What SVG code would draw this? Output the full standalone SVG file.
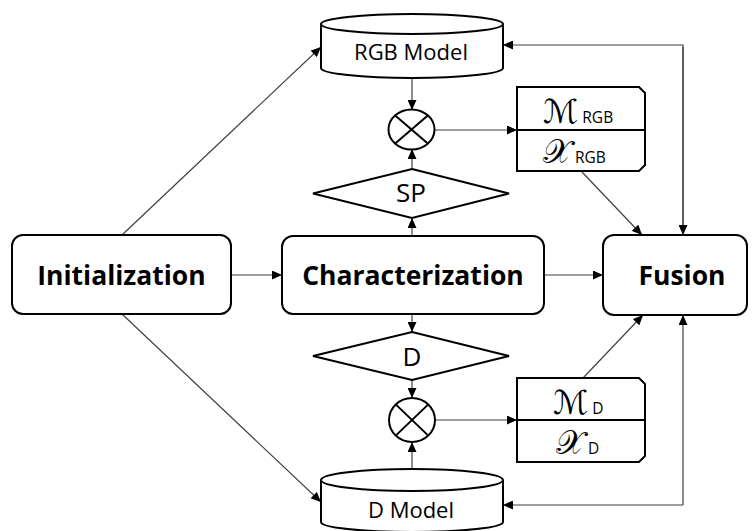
<svg xmlns="http://www.w3.org/2000/svg" width="752" height="531" viewBox="0 0 752 531">
<style>
.box{fill:#fff;stroke:#000;stroke-width:2}
.con{fill:none;stroke:#404040;stroke-width:1.2}
.big{font-family:"Open Sans","DejaVu Sans",sans-serif;font-weight:bold;font-size:26.5px;text-anchor:middle;fill:#000}
.reg{font-family:"Open Sans","DejaVu Sans",sans-serif;font-size:22px;text-anchor:middle;fill:#000}
.dia{font-family:"Open Sans","DejaVu Sans",sans-serif;font-size:26px;text-anchor:middle;fill:#000}
.sub{font-family:"Open Sans","DejaVu Sans",sans-serif;font-size:15.5px;fill:#000}
.cal{font-family:"DejaVu Sans","DejaVu Serif",serif;font-size:33px;fill:#000}
</style>
<defs>
<marker id="ah" markerUnits="userSpaceOnUse" markerWidth="11" markerHeight="9" refX="10" refY="4.5" orient="auto">
<path d="M0,0 L10,4.5 L0,9 z" fill="#000"/>
</marker>
</defs>

<g id="connectors" class="con">
<line x1="231" y1="275" x2="282" y2="275" marker-end="url(#ah)"/>
<line x1="544" y1="275" x2="603" y2="275" marker-end="url(#ah)"/>
<line x1="122" y1="235" x2="321" y2="47" marker-end="url(#ah)"/>
<line x1="122" y1="314" x2="321" y2="502" marker-end="url(#ah)"/>
<line x1="412" y1="78" x2="412" y2="110" marker-end="url(#ah)"/>
<line x1="412" y1="169" x2="412" y2="149" marker-end="url(#ah)"/>
<line x1="412" y1="236" x2="412" y2="218" marker-end="url(#ah)"/>
<line x1="412" y1="314" x2="412" y2="332" marker-end="url(#ah)"/>
<line x1="412" y1="380" x2="412" y2="398" marker-end="url(#ah)"/>
<line x1="412" y1="469" x2="412" y2="442" marker-end="url(#ah)"/>
<line x1="435" y1="130" x2="517" y2="130" marker-end="url(#ah)"/>
<line x1="435" y1="420" x2="517" y2="420" marker-end="url(#ah)"/>
<line x1="582" y1="172" x2="642" y2="235" marker-end="url(#ah)"/>
<line x1="583" y1="378" x2="643" y2="315" marker-end="url(#ah)"/>
<polyline points="683,235 683,45 503,45" marker-end="url(#ah)"/>
<polyline points="683,47 683,235" marker-end="url(#ah)"/>
<polyline points="683,505 503,505" marker-end="url(#ah)"/>
<polyline points="683,505 683,315" marker-end="url(#ah)"/>
</g>

<g id="initialization">
<rect class="box" x="12" y="235" width="219" height="79" rx="11"/>
<text class="big" x="121.5" y="285">Initialization</text>
</g>

<g id="characterization">
<rect class="box" x="282" y="236" width="262" height="78" rx="11"/>
<text class="big" x="413" y="285">Characterization</text>
</g>

<g id="fusion">
<rect class="box" x="603" y="235" width="144" height="80" rx="11"/>
<text class="big" x="682" y="285">Fusion</text>
</g>

<g id="rgb-model">
<path class="box" d="M321,24 A91,10 0 0 1 503,24 L503,68 A91,10 0 0 1 321,68 Z"/>
<path class="box" fill="none" d="M321,24 A91,10 0 0 0 503,24"/>
<text class="reg" x="411" y="60">RGB Model</text>
</g>

<g id="d-model">
<path class="box" d="M321,480 A91,11 0 0 1 503,480 L503,522 A91,10 0 0 1 321,522 Z"/>
<path class="box" fill="none" d="M321,480 A91,11 0 0 0 503,480"/>
<text class="reg" x="411" y="518">D Model</text>
</g>

<g id="otimes-rgb">
<ellipse class="box" cx="411.5" cy="129.5" rx="23" ry="20"/>
<line x1="395.2" y1="115.4" x2="427.8" y2="143.6" stroke="#000" stroke-width="2"/>
<line x1="427.8" y1="115.4" x2="395.2" y2="143.6" stroke="#000" stroke-width="2"/>
</g>

<g id="otimes-d">
<ellipse class="box" cx="412" cy="420" rx="23" ry="22"/>
<line x1="395.7" y1="404.4" x2="428.3" y2="435.6" stroke="#000" stroke-width="2"/>
<line x1="428.3" y1="404.4" x2="395.7" y2="435.6" stroke="#000" stroke-width="2"/>
</g>

<g id="sp">
<polygon class="box" points="412,169 509,193.5 412,218 313,193.5"/>
<text class="dia" x="411" y="202">SP</text>
</g>

<g id="d">
<polygon class="box" points="412,332 509,356 412,380 313,356"/>
<text class="dia" x="412" y="366">D</text>
</g>

<g id="rgb-features">
<path class="box" d="M517,87 L639,87 L645,93 L645,165 L639,171 L517,171 Z"/>
<line x1="517" y1="130" x2="645" y2="130" stroke="#000" stroke-width="2"/>
<text x="543" y="123"><tspan class="cal">ℳ</tspan><tspan class="sub" dx="4">RGB</tspan></text>
<text x="543" y="163"><tspan class="cal">𝒳</tspan><tspan class="sub" dx="4">RGB</tspan></text>
</g>

<g id="d-features">
<path class="box" d="M517,378 L639,378 L645,384 L645,456 L639,462 L517,462 Z"/>
<line x1="517" y1="420" x2="645" y2="420" stroke="#000" stroke-width="2"/>
<text x="553" y="414"><tspan class="cal">ℳ</tspan><tspan class="sub" dx="4">D</tspan></text>
<text x="556" y="454"><tspan class="cal">𝒳</tspan><tspan class="sub" dx="4">D</tspan></text>
</g>
</svg>
